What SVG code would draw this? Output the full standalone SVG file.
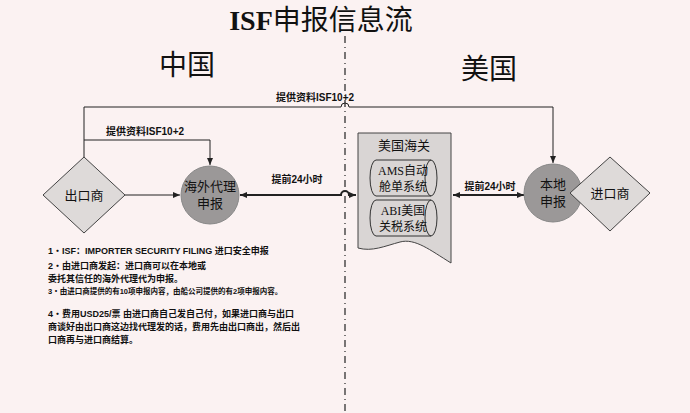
<svg xmlns="http://www.w3.org/2000/svg" width="690" height="413" viewBox="0 0 690 413">
<defs>
<style>
.t{font-family:"Liberation Serif","Noto Sans CJK SC",serif;fill:#111}
.s{font-family:"Liberation Sans","Noto Sans CJK SC",sans-serif;fill:#111}
.ln{fill:none;stroke:#222;stroke-width:1}
.dia{fill:#dedad9;stroke:#444;stroke-width:1}
.cir{fill:#9b9898;stroke:#888;stroke-width:1}
</style>
<marker id="a" markerWidth="8" markerHeight="8" refX="7" refY="4" orient="auto-start-reverse" markerUnits="userSpaceOnUse"><path d="M0,1 L7,4 L0,7 Z" fill="#222"/></marker>
</defs>
<rect width="690" height="413" fill="#fbf2f2"/>
<text class="t" x="321" y="30" font-size="28" text-anchor="middle"><tspan font-weight="bold">ISF</tspan>申报信息流</text>
<text class="t" x="187" y="75" font-size="28" text-anchor="middle">中国</text>
<text class="t" x="489" y="79" font-size="28" text-anchor="middle">美国</text>
<line x1="345" y1="36" x2="345" y2="413" stroke="#222" stroke-width="1.2" stroke-dasharray="7,4,1,4"/>
<g id="connectors">
<path class="ln" d="M84,157 V107 H341 A4,4 0 0 1 349,107 H553 V163" marker-end="url(#a)"/>
<path class="ln" d="M84,140 H210 V165" marker-end="url(#a)"/>
<path class="ln" d="M125,195 H180" marker-end="url(#a)"/>
<path d="M240,195 H341 A4,4 0 0 1 349,195 H356" fill="none" stroke="#222" stroke-width="2" marker-start="url(#a)" marker-end="url(#a)"/>
<path d="M453,195 H524" fill="none" stroke="#222" stroke-width="2" marker-start="url(#a)" marker-end="url(#a)"/>
<text class="s" x="315" y="101" font-size="10" font-weight="bold" text-anchor="middle">提供资料ISF10+2</text>
<text class="s" x="145" y="135" font-size="10" font-weight="bold" text-anchor="middle">提供资料ISF10+2</text>
<text class="s" x="297" y="183" font-size="10" font-weight="bold" text-anchor="middle">提前24小时</text>
<text class="s" x="490" y="190" font-size="10" font-weight="bold" text-anchor="middle">提前24小时</text>
</g>
<g id="exporter">
<polygon class="dia" points="84,157 125,195 84,233 43,195"/>
<text class="s" x="84" y="200" font-size="13" text-anchor="middle">出口商</text>
</g>
<g id="agent">
<circle class="cir" cx="210" cy="195" r="29"/>
<text class="s" x="210" y="191" font-size="13" text-anchor="middle">海外代理</text>
<text class="s" x="210" y="208" font-size="13" text-anchor="middle">申报</text>
</g>
<g id="customs">
<path d="M358,133 H451 V263 C430,250 415,238 400,242 C385,246 372,252 358,248 Z" fill="#d9d5d4" stroke="#444"/>
<text class="t" x="404" y="150" font-size="13" text-anchor="middle">美国海关</text>
<path d="M376,160 H431 A6,18 0 0 1 431,196 H376 A6,18 0 0 1 376,160 Z" fill="#d9d5d4" stroke="#333"/>
<path d="M431,160 A6,18 0 0 0 431,196" fill="none" stroke="#333"/>
<text class="t" x="403" y="175" font-size="12" text-anchor="middle">AMS自动</text>
<text class="t" x="403" y="191" font-size="12" text-anchor="middle">舱单系统</text>
<path d="M376,200 H431 A6,18 0 0 1 431,236 H376 A6,18 0 0 1 376,200 Z" fill="#d9d5d4" stroke="#333"/>
<path d="M431,200 A6,18 0 0 0 431,236" fill="none" stroke="#333"/>
<text class="t" x="403" y="215" font-size="12" text-anchor="middle">ABI美国</text>
<text class="t" x="403" y="231" font-size="12" text-anchor="middle">关税系统</text>
</g>
<g id="local">
<circle class="cir" cx="553" cy="193" r="29"/>
<text class="s" x="553" y="189" font-size="13" text-anchor="middle">本地</text>
<text class="s" x="553" y="206" font-size="13" text-anchor="middle">申报</text>
</g>
<g id="importer">
<polygon class="dia" points="610,157 650,193 610,231 570,193"/>
<text class="s" x="610" y="198" font-size="13" text-anchor="middle">进口商</text>
</g>
<g id="notes" class="s" font-weight="bold">
<text x="48" y="254" font-size="9">1・ISF：IMPORTER SECURITY FILING 进口安全申报</text>
<text x="48" y="269" font-size="9">2・由进口商发起：进口商可以在本地或</text>
<text x="48" y="282" font-size="9">委托其信任的海外代理代为申报。</text>
<text x="48" y="294" font-size="7.5">3・由进口商提供的有10项申报内容，由船公司提供的有2项申报内容。</text>
<text x="48" y="317" font-size="9">4・费用USD25/票 由进口商自己发自己付，如果进口商与出口</text>
<text x="48" y="330" font-size="9">商谈好由出口商这边找代理发的话，费用先由出口商出，然后出</text>
<text x="48" y="343" font-size="9">口商再与进口商结算。</text>
</g>
</svg>
